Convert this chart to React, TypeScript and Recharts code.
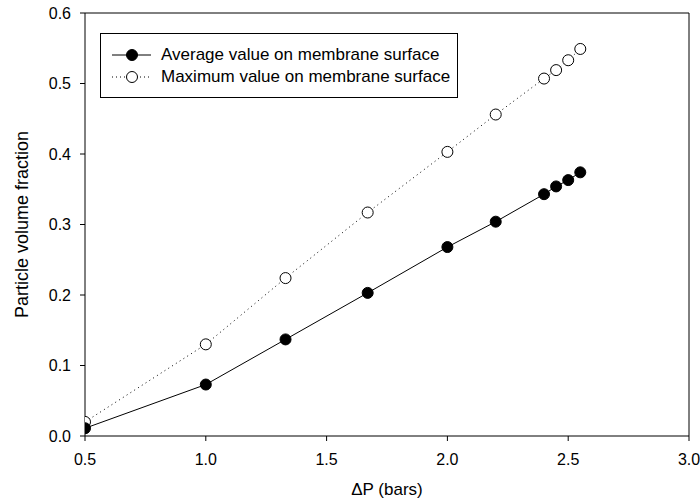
import React from "react";
import { LineChart, Line, XAxis, YAxis, ReferenceLine } from "recharts";

const pressures = [0.5, 1.0, 1.33, 1.67, 2.0, 2.2, 2.4, 2.45, 2.5, 2.55];
const averageValues = [0.011, 0.073, 0.137, 0.203, 0.268, 0.304, 0.343, 0.354, 0.363, 0.374];
const maximumValues = [0.02, 0.13, 0.224, 0.317, 0.403, 0.456, 0.507, 0.519, 0.533, 0.549];
const xTicks = [0.5, 1.0, 1.5, 2.0, 2.5, 3.0];
const yTicks = [0.0, 0.1, 0.2, 0.3, 0.4, 0.5, 0.6];
const seriesNames = ["Average value on membrane surface", "Maximum value on membrane surface"];

const data = pressures.map((p, i) => ({
  p,
  avg: averageValues[i],
  max: maximumValues[i],
}));

const FONT = "'Liberation Sans', Arial, sans-serif";

const LegendBox = () => (
  <div
    style={{
      position: "absolute",
      left: 100,
      top: 33,
      width: 358,
      height: 65,
      border: "1px solid #000",
      background: "#fff",
      fontFamily: FONT,
      fontSize: 17,
      color: "#000",
      boxSizing: "border-box",
      paddingTop: 10,
    }}
  >
    {seriesNames.map((name, i) => (
      <div key={name} style={{ display: "flex", alignItems: "center", height: 22 }}>
        <svg width={60} height={16} style={{ flex: "none" }}>
          <line
            x1={11}
            x2={50}
            y1={8}
            y2={8}
            stroke="#000"
            strokeWidth={1}
            strokeDasharray={i === 0 ? undefined : "1 3"}
          />
          <circle
            cx={31}
            cy={8}
            r={5.5}
            fill={i === 0 ? "#000" : "#fff"}
            stroke="#000"
            strokeWidth={1}
          />
        </svg>
        <span style={{ whiteSpace: "nowrap" }}>{name}</span>
      </div>
    ))}
  </div>
);

export default function App() {
  return (
    <div style={{ position: "absolute", left: 0, top: 0, width: 700, height: 499, background: "#fff" }}>
      <LineChart
        width={700}
        height={499}
        data={data}
        margin={{ top: 13, right: 11, bottom: 23, left: 25 }}
      >
        <XAxis
          dataKey="p"
          type="number"
          domain={[0.5, 3.0]}
          ticks={xTicks}
          tickFormatter={(v: number) => v.toFixed(1)}
          stroke="#000"
          tickSize={5}
          tickMargin={13}
          height={40}
          tick={{ fill: "#000", fontSize: 16, fontFamily: FONT }}
          allowDataOverflow
          label={{
            value: "ΔP (bars)",
            position: "insideBottom",
            offset: -19,
            fill: "#000",
            fontSize: 17,
            fontFamily: FONT,
          }}
        />
        <YAxis
          type="number"
          domain={[0, 0.6]}
          ticks={yTicks}
          tickFormatter={(v: number) => v.toFixed(1)}
          stroke="#000"
          tickSize={5}
          tickMargin={9}
          width={60}
          tick={{ fill: "#000", fontSize: 16, fontFamily: FONT }}
          allowDataOverflow
          label={{
            value: "Particle volume fraction",
            angle: -90,
            position: "insideLeft",
            offset: -3,
            style: { textAnchor: "middle" },
            fill: "#000",
            fontSize: 18,
            fontFamily: FONT,
          }}
        />
        <ReferenceLine y={0.6} stroke="#000" strokeWidth={1} />
        <ReferenceLine x={3.0} stroke="#000" strokeWidth={1} />
        <Line
          dataKey="max"
          name={seriesNames[1]}
          stroke="#000"
          strokeWidth={1}
          strokeDasharray="1 3.5"
          dot={{ r: 5.5, fill: "#fff", stroke: "#000", strokeWidth: 1, strokeDasharray: "" }}
          isAnimationActive={false}
        />
        <Line
          dataKey="avg"
          name={seriesNames[0]}
          stroke="#000"
          strokeWidth={1}
          dot={{ r: 5.5, fill: "#000", stroke: "#000", strokeWidth: 1 }}
          isAnimationActive={false}
        />
      </LineChart>
      <LegendBox />
    </div>
  );
}
